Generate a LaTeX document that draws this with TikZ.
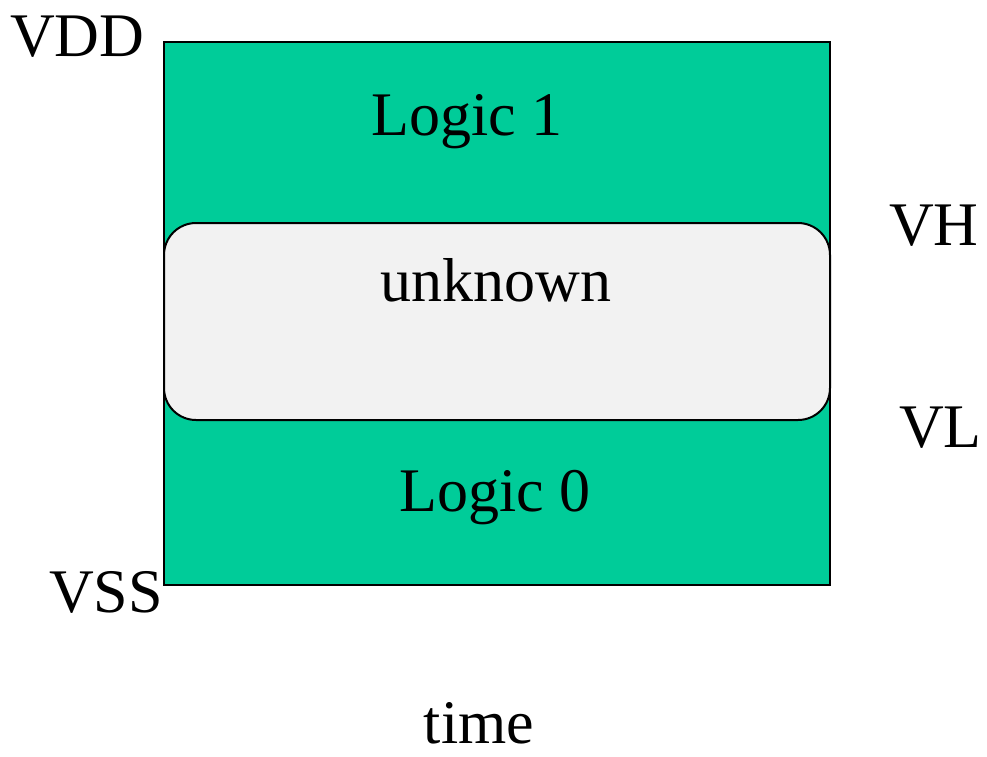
\documentclass[tikz,border=0pt]{standalone}
\usepackage{fontspec}
\setmainfont{Liberation Serif}
\definecolor{zonegreen}{HTML}{00CC99}
\definecolor{zonegray}{HTML}{F2F2F2}
\begin{document}
\begin{tikzpicture}[x=1pt,y=-1pt,
  lbl/.style={inner sep=0pt,font=\fontsize{62}{62}\selectfont},
  zone/.style={draw=black,line width=2pt}]
\useasboundingbox (0,0) rectangle (987,756);
\node[zone,fill=zonegreen,minimum width=666pt,minimum height=543pt,inner sep=0pt,anchor=north west] (band) at (163,41) {};
\node[zone,fill=zonegray,rounded corners=32pt,minimum width=666pt,minimum height=197pt,inner sep=0pt,anchor=north west] (unk) at (163,222) {};
\node[lbl,anchor=base] (l1) at (467,135) {Logic 1};
\node[lbl,anchor=base] (un) at (496,301) {unknown};
\node[lbl,anchor=base] (l0) at (495,511) {Logic 0};
\node[lbl,anchor=base west] (vdd) at (10,56) {VDD};
\node[lbl,anchor=base west] (vh) at (889,245) {VH};
\node[lbl,anchor=base west] (vl) at (899,447) {VL};
\node[lbl,anchor=base east] (vss) at (163,612) {VSS};
\node[lbl,anchor=base] (time) at (479,743) {time};
\end{tikzpicture}
\end{document}
